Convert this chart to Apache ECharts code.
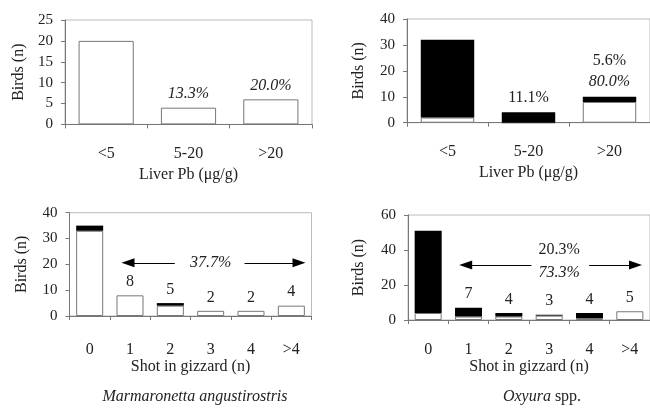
<!DOCTYPE html>
<html><head><meta charset="utf-8">
<script src="https://cdn.jsdelivr.net/npm/echarts@6/dist/echarts.min.js"></script>
<style>html,body{margin:0;padding:0;background:#fff}#c{width:650px;height:413px}</style>
</head><body><div id="c"></div>
<script>
const FONT = 'Liberation Serif';
// ---- Top panels: liver lead (µg/g)
const liverCats = ['<5', '5-20', '>20'];
const marmLiverWhite = [20, 4, 6];
const marmLiverPctItalic = ['', '13.3%', '20.0%'];
const oxyLiverWhite = [2, 0, 8];
const oxyLiverBlack = [30, 4, 2];
const oxyLiverPctUpright = ['', '11.1%', '5.6%'];
const oxyLiverPctItalic = ['', '', '80.0%'];
// ---- Bottom panels: shot in gizzard
const shotCats = ['0', '1', '2', '3', '4', '>4'];
const marmShotWhite = [33, 8, 4, 2, 2, 4];
const marmShotBlack = [2, 0, 1, 0, 0, 0];
const marmShotCounts = ['', '8', '5', '2', '2', '4'];
const oxyShotWhite = [4, 2, 2, 2.5, 1, 5];
const oxyShotBlack = [47, 5, 2, 0.5, 3, 0];
const oxyShotCounts = ['', '7', '4', '3', '4', '5'];
// ---- y axis ranges per panel
const yMaxes = [25, 40, 40, 60];
const ySteps = [5, 10, 10, 20];
// ---- arrow annotations (x in category-index units, y in birds)
const marmArrowY = 20.6;
const marmArrowSegs = [[0.95, 2.11], [3.84, 5.19]];
const marmArrowText = [{x: 3.0, y: 20.6, t: '37.7%', italic: true}];
const oxyArrowY = 31.4;
const oxyArrowSegs = [[0.93, 2.56], [3.99, 5.14]];
const oxyArrowText = [{x: 3.25, y: 40, t: '20.3%', italic: false}, {x: 3.25, y: 26.9, t: '73.3%', italic: true}];
// ---- text
const yName = 'Birds (n)';
const xNames = ['Liver Pb (μg/g)', 'Liver Pb (μg/g)', 'Shot in gizzard (n)', 'Shot in gizzard (n)'];
const species = ['Marmaronetta angustirostris', 'Oxyura'];

const TXT = '#222';
const AX = '#777';
const grids = [
  {left: 65, top: 20, width: 247, height: 104.4},
  {left: 407, top: 19, width: 246, height: 103.7},
  {left: 69.5, top: 212.7, width: 242, height: 103.3},
  {left: 408, top: 215, width: 242.5, height: 105}
];
const xNameGaps = [42, 42, 42, 38];
const xLabelMargins = [21, 21, 26, 22];
const yNameGaps = [38, 40, 40, 41];

const option = {
  animation: false,
  backgroundColor: '#fff',
  textStyle: {fontFamily: FONT, color: TXT},
  grid: grids.map(g => Object.assign({show: true, borderColor: '#bbb', borderWidth: 1, backgroundColor: 'transparent'}, g)),
  xAxis: [0, 1, 2, 3].map(i => ({
    type: 'category', gridIndex: i, data: i < 2 ? liverCats : shotCats,
    name: xNames[i], nameLocation: 'middle', nameGap: xNameGaps[i],
    nameTextStyle: {fontFamily: FONT, fontSize: 16, color: TXT},
    axisLine: {onZero: false, lineStyle: {color: AX, width: 1}},
    axisTick: {show: true, length: 4, lineStyle: {color: AX}},
    axisLabel: {fontFamily: FONT, fontSize: 16, color: TXT, margin: xLabelMargins[i]}
  })).concat([2, 3].map(i => ({
    type: 'value', gridIndex: i, min: -0.5, max: 5.5, show: false
  }))),
  yAxis: [0, 1, 2, 3].map(i => ({
    type: 'value', gridIndex: i, min: 0, max: yMaxes[i], interval: ySteps[i],
    name: yName, nameLocation: 'middle', nameRotate: 90, nameGap: yNameGaps[i],
    nameTextStyle: {fontFamily: FONT, fontSize: 16, color: TXT},
    axisLine: {show: true, onZero: false, lineStyle: {color: AX, width: 1}},
    axisTick: {show: true, length: 4, lineStyle: {color: AX}},
    splitLine: {show: false},
    axisLabel: {fontFamily: FONT, fontSize: 15, color: TXT, margin: 12}
  })),
  title: [
    {text: species[0], left: 190, top: 384, textAlign: 'center',
     textStyle: {fontFamily: FONT, fontSize: 16, fontWeight: 'normal', fontStyle: 'italic', color: TXT}},
    {text: '{i|' + species[1] + '} {n|spp.}', left: 537, top: 384, textAlign: 'center',
     textStyle: {fontFamily: FONT, fontSize: 16, fontWeight: 'normal', color: TXT,
       rich: {i: {fontFamily: FONT, fontSize: 16, fontStyle: 'italic', color: TXT}, n: {fontFamily: FONT, fontSize: 16, color: TXT}}}}
  ],
  series: []
};

const whiteStyle = {color: '#fff', borderColor: '#777', borderWidth: 1};
const blackStyle = {color: '#000'};
const richTxt = {
  n: {fontFamily: FONT, fontSize: 16, color: TXT, lineHeight: 21},
  i: {fontFamily: FONT, fontSize: 16, color: TXT, fontStyle: 'italic', lineHeight: 21}
};

// Panel 0: Marmaronetta liver
option.series.push({
  type: 'bar', xAxisIndex: 0, yAxisIndex: 0, data: marmLiverWhite, barWidth: '67%',
  itemStyle: whiteStyle,
  label: {show: true, position: 'top', distance: 3, rich: richTxt,
    formatter: p => marmLiverPctItalic[p.dataIndex] ? '{i|' + marmLiverPctItalic[p.dataIndex] + '}' : ''}
});
// Panel 1: Oxyura liver
option.series.push({
  type: 'bar', xAxisIndex: 1, yAxisIndex: 1, stack: 'o1', data: oxyLiverWhite, barWidth: '66%', itemStyle: whiteStyle
});
option.series.push({
  type: 'bar', xAxisIndex: 1, yAxisIndex: 1, stack: 'o1', data: oxyLiverBlack, barWidth: '66%', itemStyle: blackStyle,
  label: {show: true, position: 'top', distance: 4, rich: richTxt,
    formatter: p => {
      const parts = [];
      if (oxyLiverPctUpright[p.dataIndex]) parts.push('{n|' + oxyLiverPctUpright[p.dataIndex] + '}');
      if (oxyLiverPctItalic[p.dataIndex]) parts.push('{i|' + oxyLiverPctItalic[p.dataIndex] + '}');
      return parts.join('\n');
    }}
});
// Panel 2: Marmaronetta shot
option.series.push({
  type: 'bar', xAxisIndex: 2, yAxisIndex: 2, stack: 'm2', data: marmShotWhite, barWidth: '67%', itemStyle: whiteStyle
});
option.series.push({
  type: 'bar', xAxisIndex: 2, yAxisIndex: 2, stack: 'm2', data: marmShotBlack, barWidth: '67%', itemStyle: blackStyle,
  label: {show: true, position: 'top', distance: 3, rich: richTxt,
    formatter: p => marmShotCounts[p.dataIndex] ? '{n|' + marmShotCounts[p.dataIndex] + '}' : ''}
});
// Panel 3: Oxyura shot
option.series.push({
  type: 'bar', xAxisIndex: 3, yAxisIndex: 3, stack: 'o3', data: oxyShotWhite, barWidth: '67%', itemStyle: whiteStyle
});
option.series.push({
  type: 'bar', xAxisIndex: 3, yAxisIndex: 3, stack: 'o3', data: oxyShotBlack, barWidth: '67%', itemStyle: blackStyle,
  label: {show: true, position: 'top', distance: 3, rich: richTxt,
    formatter: p => oxyShotCounts[p.dataIndex] ? '{n|' + oxyShotCounts[p.dataIndex] + '}' : ''}
});

function arrowSeries(xIdx, yIdx, yv, segs, texts) {
  return {
    type: 'line', xAxisIndex: xIdx, yAxisIndex: yIdx, data: [], silent: true,
    markLine: {
      silent: true, symbol: ['none', 'none'], label: {show: false},
      lineStyle: {color: '#000', width: 1.2, type: 'solid'},
      emphasis: {disabled: true},
      data: [
        [{coord: [segs[0][0], yv], symbol: 'triangle', symbolSize: [9, 13]}, {coord: [segs[0][1], yv], symbol: 'none'}],
        [{coord: [segs[1][0], yv], symbol: 'none'}, {coord: [segs[1][1], yv], symbol: 'triangle', symbolSize: [9, 13]}]
      ]
    },
    markPoint: {
      silent: true, symbol: 'circle', symbolSize: 1, itemStyle: {color: 'rgba(0,0,0,0)'},
      data: texts.map(t => ({coord: [t.x, t.y], value: t.t,
        label: {show: true, position: 'inside', formatter: (t.italic ? '{i|' : '{n|') + t.t + '}', rich: richTxt}}))
    }
  };
}
option.series.push(arrowSeries(4, 2, marmArrowY, marmArrowSegs, marmArrowText));
option.series.push(arrowSeries(5, 3, oxyArrowY, oxyArrowSegs, oxyArrowText));

const chart = echarts.init(document.getElementById('c'), null, {renderer: 'canvas'});
chart.setOption(option);
</script></body></html>
